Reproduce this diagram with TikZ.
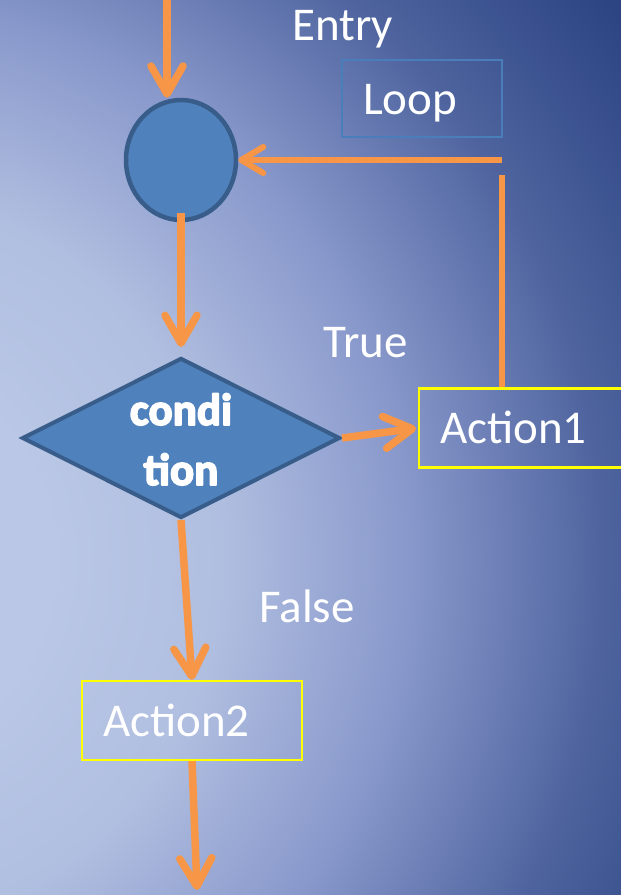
\documentclass[tikz,border=0pt]{standalone}
\usepackage{fontspec}
\setmainfont{Carlito}
\usetikzlibrary{arrows.meta, positioning, shapes.geometric}

\definecolor{flowOrange}{HTML}{F79646}
\definecolor{nodeFill}{HTML}{4F81BD}
\definecolor{nodeEdge}{HTML}{385D8A}
\definecolor{boxYellow}{HTML}{FFFF00}
\definecolor{loopBlue}{HTML}{4A7EBB}
\definecolor{bgCore}{HTML}{BAC7E6}
\definecolor{bgLight}{HTML}{B0BEE0}
\definecolor{bgMid}{HTML}{8898CB}
\definecolor{bgDusk}{HTML}{4F649F}
\definecolor{bgDeep}{HTML}{3E5692}
\definecolor{bgNight}{HTML}{2E4584}

% backdrop: light on the left, navy towards the right
% (the path's box covers the inner 50bp of the shading)
\pgfdeclareradialshading{backdrop}{\pgfpoint{0bp}{0bp}}{%
  color(0bp)=(bgCore); color(5bp)=(bgCore); color(9.3bp)=(bgLight);
  color(14bp)=(bgMid); color(18.8bp)=(bgDusk); color(20.8bp)=(bgDeep);
  color(23.5bp)=(bgNight); color(50bp)=(bgNight)}

% heavier strokes for the bold label in the diamond
\newcommand{\heavytext}[1]{%
  \special{pdf:literal direct 2 Tr 1.6 w 1 j 1 1 1 RG}#1\special{pdf:literal direct 0 Tr}}

\begin{document}
\begin{tikzpicture}[x=1pt, y=-1pt,
    flow/.style={draw=flowOrange, line width=7.5pt,
      -{Straight Barb[length=28pt, width=32pt, round]}},
    loopline/.style={draw=flowOrange, line width=6pt},
    textlabel/.style={text=white, font=\fontsize{47}{56}\selectfont, inner sep=0pt},
    actbox/.style={draw=boxYellow, line width=2.2pt, text=white,
      font=\fontsize{47}{56}\selectfont, align=left, text height=31pt,
      text depth=0pt, inner xsep=21pt, minimum height=79pt},
    junction/.style={ellipse, fill=nodeFill, draw=nodeEdge, line width=4.5pt,
      minimum width=110pt, minimum height=120pt, inner sep=0pt},
    decision/.style={diamond, fill=nodeFill, draw=nodeEdge, line width=4pt,
      minimum width=318pt, minimum height=160pt, inner sep=0pt},
    condtext/.style={text=white, font=\fontsize{45}{60}\selectfont\bfseries, inner sep=0pt}]

    % Page and background
    \useasboundingbox (0,0) rectangle (621,895);
    \begin{scope}
        \clip (0,0) rectangle (621,895);
        \shade[shading=backdrop] (-150,560) circle (1000);
    \end{scope}

    % Free ends of the connectors
    \coordinate (start) at (167,0);
    \coordinate (exit) at (197,890);
    \coordinate (loopcorner) at (502,160);
    \coordinate (looptop) at (502,175);

    % Nodes
    \node[textlabel, anchor=base west] (entry) at (292,40) {Entry};
    \node[actbox, draw=loopBlue, line width=1.8pt, text width=118pt,
        minimum height=77pt] (loopbox) at (422,98.5) {Loop};
    \node[junction] (hub) at (181,160) {};
    \node[decision] (cond) at (181,438) {};
    \node[actbox, text width=240pt, anchor=west] (act1) at (418,428) {Action1};
    \node[actbox, text width=178pt] (act2) at (192,720.5) {Action2};
    \node[textlabel, anchor=base west] (truelbl) at (323,357) {True};
    \node[textlabel, anchor=base west] (falselbl) at (259,622) {False};

    % Bold text in the diamond
    \foreach \word/\base in {condi/425, tion/485}
        \node[condtext, anchor=base] (word-\word) at (181,\base) {\heavytext{\word}};

    % Connectors
    \draw[flow] (start) -- (start |- hub.north);
    \draw[flow] ([yshift=9pt]hub.south) -- ([yshift=9pt]cond.north);
    \draw[flow, shorten >=2pt] (cond.east) -- (act1.west);
    \draw[flow] (cond.south) -- (act2.north);
    \draw[flow] (act2.south) -- (exit);

    % Loop back to the junction
    \draw[loopline] (looptop |- act1.north) -- (looptop);
    \draw[loopline, -{Straight Barb[length=22pt, width=26pt, round]}]
        (loopcorner) -- (hub.east);

\end{tikzpicture}
\end{document}
